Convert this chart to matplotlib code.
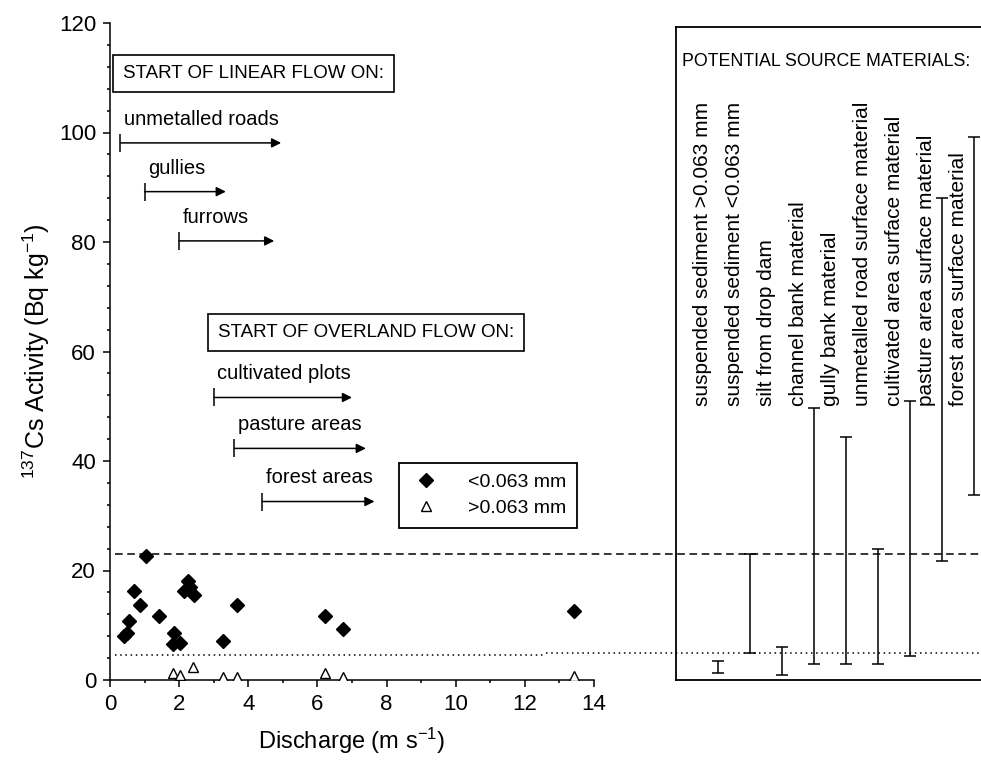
import matplotlib
matplotlib.use("Agg")
import matplotlib.pyplot as plt
from matplotlib.lines import Line2D
from matplotlib.ticker import MultipleLocator

plt.rcParams['font.family'] = ['Liberation Sans', 'DejaVu Sans']
plt.rcParams['mathtext.default'] = 'regular'

# suspended sediment <0.063 mm
fine_q = [0.40, 0.48, 0.54, 0.69, 0.87, 1.04, 1.43, 1.85, 1.81, 2.02,
          2.14, 2.27, 2.30, 2.43, 3.28, 3.66, 6.22, 6.74, 13.41]
fine_cs = [8.0, 8.6, 10.8, 16.2, 13.7, 22.7, 11.6, 8.6, 6.5, 6.8,
           16.3, 18.0, 17.0, 15.5, 7.2, 13.7, 11.6, 9.3, 12.6]

# suspended sediment >0.063 mm
coarse_q = [1.81, 2.02, 2.41, 3.26, 3.66, 6.22, 6.74, 13.41]
coarse_cs = [1.2, 0.9, 2.4, 0.5, 0.5, 1.2, 0.6, 0.7]

# reference levels
upper_level = 23.1
lower_level = 4.6
lower_level_right = 5.0

# discharge thresholds for the start of flow
linear_labels = ['unmetalled roads', 'gullies', 'furrows']
linear_start = [0.3, 1.0, 2.0]
linear_end = [4.95, 3.35, 4.75]
linear_y = [98.1, 89.2, 80.2]

overland_labels = ['cultivated plots', 'pasture areas', 'forest areas']
overland_start = [3.0, 3.6, 4.4]
overland_end = [7.0, 7.4, 7.65]
overland_y = [51.6, 42.3, 32.6]

# source material ranges
sources = ['suspended sediment >0.063 mm', 'suspended sediment <0.063 mm',
           'silt from drop dam', 'channel bank material', 'gully bank material',
           'unmetalled road surface material', 'cultivated area surface material',
           'pasture area surface material', 'forest area surface material']
src_low = [1.3, 5.0, 1.0, 2.9, 2.9, 2.9, 4.3, 21.7, 33.7]
src_high = [3.5, 23.1, 6.1, 49.6, 44.4, 23.9, 51.0, 88.0, 99.2]

fig = plt.figure(figsize=(9.81, 7.71), dpi=100)
ax = fig.add_axes([110/981, 91/771, 484/981, 657/771])
ax2 = fig.add_axes([676/981, 91/771, 305/981, 653/771])

lw = 1.1
ax.plot(fine_q, fine_cs, 'D', color='black', ms=7.2, zorder=5)
ax.plot(coarse_q, coarse_cs, '^', mfc='white', mec='black', mew=1, ms=7.5, zorder=4)

ax.plot([0.15, 25.2], [upper_level]*2, color='black', lw=1.1, dashes=(5, 3), clip_on=False)
ax.plot([0.15, 12.6], [lower_level]*2, color='black', lw=1.1, dashes=(1, 2.4), clip_on=False)
ax.plot([12.6, 25.2], [lower_level_right]*2, color='black', lw=1.1, dashes=(1, 2.4), clip_on=False)

ax.set_xlim(0, 14)
ax.set_ylim(0, 120)
ax.xaxis.set_major_locator(MultipleLocator(2))
ax.xaxis.set_minor_locator(MultipleLocator(1))
ax.yaxis.set_major_locator(MultipleLocator(20))
ax.yaxis.set_minor_locator(MultipleLocator(4))
ax.tick_params(which='major', length=5, width=lw, labelsize=16, pad=5)
ax.tick_params(which='minor', length=2.5, width=lw)
for s in ['top', 'right']:
    ax.spines[s].set_visible(False)
for s in ['left', 'bottom']:
    ax.spines[s].set_linewidth(lw)

ax.set_xlabel('Discharge (m s$^{-1}$)', fontsize=17, labelpad=8)
ax.set_ylabel('$^{137}$Cs Activity (Bq kg$^{-1}$)', fontsize=18, labelpad=5)

box = dict(boxstyle='square,pad=0.55', fc='white', ec='black', lw=1.2)
ax.text(0.38, 110.8, 'START OF LINEAR FLOW ON:', fontsize=13.5, va='center', bbox=box)
ax.text(3.12, 63.5, 'START OF OVERLAND FLOW ON:', fontsize=13.5, va='center', bbox=box)


def flow_arrows(labels, starts, ends, ys):
    for lab, x0, x1, y in zip(labels, starts, ends, ys):
        ax.annotate('', xy=(x1, y), xytext=(x0, y),
                    arrowprops=dict(arrowstyle='-|>', color='black', lw=1.1,
                                    mutation_scale=14, shrinkA=0, shrinkB=0))
        ax.plot([x0], [y], marker='|', color='black', ms=13, mew=1.1)
        ax.text(x0 + 0.1, y + 4.3, lab, fontsize=14.5, va='center', ha='left')


flow_arrows(linear_labels, linear_start, linear_end, linear_y)
flow_arrows(overland_labels, overland_start, overland_end, overland_y)

handles = [Line2D([], [], ls='none', marker='D', color='black', ms=7.2),
           Line2D([], [], ls='none', marker='^', mfc='white', mec='black', mew=1, ms=7.5)]
leg = ax.legend(handles, ['<0.063 mm', '>0.063 mm'], loc='upper left',
                bbox_to_anchor=(0.598, 0.331), fontsize=14, frameon=True,
                fancybox=False, edgecolor='black', framealpha=1,
                borderaxespad=0, handletextpad=1.4, borderpad=0.55,
                labelspacing=0.45, handlelength=1.6)
leg.get_frame().set_linewidth(1.3)

# right panel: potential source materials
pos = list(range(1, len(sources) + 1))
mid = [(a + b) / 2 for a, b in zip(src_low, src_high)]
half = [(b - a) / 2 for a, b in zip(src_low, src_high)]
ax2.errorbar(pos, mid, yerr=half, fmt='none', ecolor='black', elinewidth=1.1,
             capsize=4, capthick=1.1)
for p, lab in zip(pos, sources):
    ax2.text(p - 0.47, 50, lab, rotation=90, ha='center', va='bottom', fontsize=15)
ax2.text(-0.13, 112.9, 'POTENTIAL SOURCE MATERIALS:', fontsize=12.8, va='center', ha='left')
ax2.set_xlim(-0.303, -0.303 + 305/32)
ax2.set_ylim(0, 653/5.475)
ax2.set_xticks([])
ax2.set_yticks([])
ax2.set_facecolor('none')
ax2.spines['right'].set_visible(False)
for s in ax2.spines.values():
    s.set_linewidth(1.3)

fig.savefig('out.png', dpi=100)
